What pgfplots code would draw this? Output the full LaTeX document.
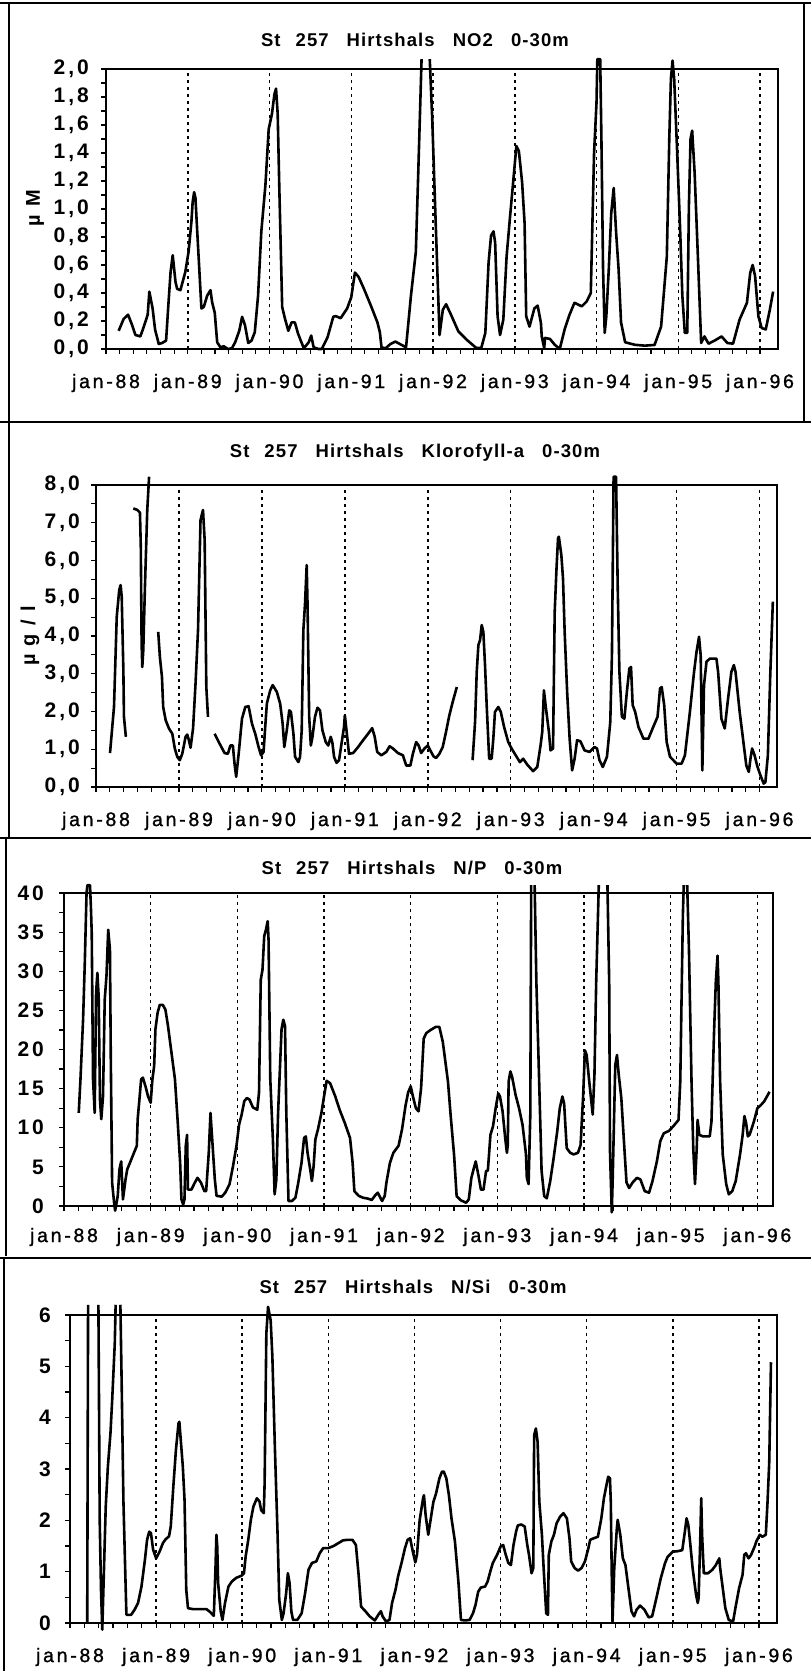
\documentclass[border=0pt]{standalone}
\usepackage{pgfplots}
\pgfplotsset{compat=1.18}
\usepackage{fontspec}
\setmainfont{Liberation Sans}
\newfontfamily\xlfont{Liberation Sans}[LetterSpace=14, FakeBold=1.2]
\newfontfamily\ylfont{Liberation Sans}[LetterSpace=14]
\newfontfamily\ttlfont{Liberation Sans}[LetterSpace=6]
\newcommand{\gap}{\hspace{18pt}}
\pgfplotsset{
  panel/.style={
    scale only axis, clip=false, xmin=0, ymin=0,
    axis line style={line width=2.3pt},
    tick style={line width=1.2pt, black},
    tick align=outside, tick pos=left,
    major tick length=5pt, minor tick length=5pt,
    xtick={0,...,8},
    xticklabels={jan-88,jan-89,jan-90,jan-91,jan-92,jan-93,jan-94,jan-95,jan-96},
    minor x tick num=5, minor y tick num=1,
    xmajorgrids,
    major grid style={line width=1.5pt, dash pattern=on 3pt off 4pt, black},
    xticklabel style={font=\xlfont\fontsize{19.5}{22}\selectfont, anchor=center, yshift=-29pt},
    yticklabel style={font=\ylfont\bfseries\fontsize{21}{24}\selectfont, anchor=east, inner sep=0pt},
    unbounded coords=jump,
  },
  dat/.style={line width=2.6pt, black, no markers, line join=round}
}
\begin{document}
\begin{tikzpicture}
\path[use as bounding box] (0pt,0pt) rectangle (811pt,-1671pt);
% panel frames
\draw[line width=1.8pt] (0pt,-3pt) -- (811pt,-3pt);
\draw[line width=1.5pt] (9pt,-3pt) -- (9pt,-838pt);
\draw[line width=1.5pt] (804pt,-3pt) -- (804pt,-422pt);
\draw[line width=1.8pt] (0pt,-422pt) -- (811pt,-422pt);
\draw[line width=1.8pt] (0pt,-838pt) -- (811pt,-838pt);
\draw[line width=1.5pt] (6pt,-838pt) -- (6pt,-1256pt);
\draw[line width=1.8pt] (0pt,-1258pt) -- (811pt,-1258pt);
\draw[line width=1.5pt] (4pt,-1258pt) -- (4pt,-1671pt);

% ---------------- Panel 1: NO2
\begin{axis}[panel, at={(106pt,-349pt)}, anchor=south west, width=672pt, height=280pt,
  xmax=8.22, ymax=2, ytick={0,0.2,0.4,0.6,0.8,1.0,1.2,1.4,1.6,1.8,2.0},
  yticklabels={{0,0},{0,2},{0,4},{0,6},{0,8},{1,0},{1,2},{1,4},{1,6},{1,8},{2,0}},
  yticklabel style={xshift=-12pt}]
\addplot[dat] coordinates {(0.155,0.13)(0.216,0.215)(0.27,0.245)(0.32,0.17)(0.36,0.10)(0.42,0.09)(0.46,0.155)(0.51,0.245)(0.53,0.41)(0.57,0.29)(0.60,0.14)(0.645,0.036)(0.686,0.043)(0.735,0.06)(0.76,0.29)(0.79,0.55)(0.816,0.67)(0.85,0.48)(0.87,0.43)(0.91,0.42)(0.97,0.55)(1.01,0.695)(1.045,0.91)(1.06,1.05)(1.078,1.12)(1.094,1.08)(1.114,0.86)(1.143,0.55)(1.167,0.29)(1.196,0.30)(1.237,0.38)(1.278,0.42)(1.298,0.335)(1.33,0.26)(1.36,0.048)(1.40,0.012)(1.44,0.02)(1.49,0.0)(1.54,0.005)(1.58,0.048)(1.63,0.13)(1.665,0.23)(1.70,0.17)(1.74,0.043)(1.78,0.06)(1.82,0.12)(1.86,0.38)(1.90,0.84)(1.95,1.17)(1.99,1.57)(2.03,1.68)(2.06,1.82)(2.08,1.86)(2.10,1.68)(2.12,1.15)(2.155,0.30)(2.19,0.215)(2.23,0.13)(2.27,0.19)(2.31,0.19)(2.35,0.108)(2.42,0.005)(2.48,0.048)(2.51,0.096)(2.54,0.012)(2.60,0)(2.64,0)(2.71,0.084)(2.78,0.23)(2.81,0.235)(2.87,0.22)(2.95,0.29)(3.00,0.37)(3.045,0.546)(3.09,0.515)(3.155,0.43)(3.24,0.31)(3.32,0.19)(3.35,0.12)(3.37,0.012)(3.42,0.005)(3.48,0.036)(3.54,0.053)(3.60,0.034)(3.67,0.012)(3.73,0.38)(3.79,0.695)(3.82,1.27)(3.86,2.07)(3.87,nan)(3.96,2.07)(3.99,1.65)(4.03,0.95)(4.08,0.10)(4.12,0.28)(4.16,0.32)(4.22,0.245)(4.31,0.126)(4.41,0.067)(4.53,0.007)(4.59,0.007)(4.64,0.115)(4.68,0.62)(4.71,0.81)(4.74,0.84)(4.76,0.76)(4.79,0.234)(4.82,0.10)(4.86,0.21)(4.90,0.66)(4.94,0.93)(4.98,1.19)(5.02,1.45)(5.05,1.415)(5.09,1.19)(5.12,0.90)(5.14,0.234)(5.18,0.16)(5.24,0.29)(5.28,0.31)(5.32,0.186)(5.33,0.09)(5.36,0.007)(5.37,0.079)(5.43,0.072)(5.49,0.03)(5.55,0)(5.61,0.14)(5.67,0.245)(5.73,0.33)(5.82,0.305)(5.88,0.34)(5.93,0.40)(5.97,1.40)(6.00,1.76)(6.01,2.07)(6.045,2.07)(6.06,1.50)(6.08,0.57)(6.10,0.115)(6.12,0.234)(6.15,0.57)(6.18,0.97)(6.21,1.15)(6.24,0.83)(6.27,0.57)(6.30,0.19)(6.35,0.048)(6.47,0.03)(6.59,0.024)(6.71,0.029)(6.79,0.16)(6.86,0.66)(6.89,1.50)(6.91,1.93)(6.93,2.06)(6.95,1.93)(6.98,1.50)(7.02,0.90)(7.05,0.38)(7.08,0.115)(7.11,0.115)(7.13,1.02)(7.15,1.50)(7.17,1.56)(7.20,1.26)(7.24,0.66)(7.28,0.043)(7.32,0.09)(7.37,0.038)(7.45,0.062)(7.53,0.09)(7.60,0.043)(7.67,0.038)(7.75,0.21)(7.84,0.33)(7.88,0.544)(7.91,0.60)(7.94,0.52)(7.98,0.234)(8.02,0.15)(8.07,0.14)(8.12,0.28)(8.16,0.41)};
\end{axis}
\node[font=\ttlfont\bfseries\fontsize{18.5}{21}\selectfont] at (415pt,-40pt) {St\hspace{15pt}257\gap Hirtshals\gap NO2\gap 0-30m};
\node[rotate=90, font=\ylfont\bfseries\fontsize{20}{22}\selectfont] at (35pt,-208pt) {µ M};

% ---------------- Panel 2: Klorofyll-a
\begin{axis}[panel, at={(96pt,-787pt)}, anchor=south west, width=681pt, height=302pt,
  xmax=8.21, ymax=8, ytick={0,1,2,3,4,5,6,7,8},
  yticklabels={{0,0},{1,0},{2,0},{3,0},{4,0},{5,0},{6,0},{7,0},{8,0}},
  yticklabel style={xshift=-11pt}]
\addplot[dat] coordinates {(0.169,0.90)(0.217,2.12)(0.25,4.51)(0.28,5.22)(0.297,5.35)(0.31,5.04)(0.33,3.09)(0.337,1.86)(0.36,1.33)(0.40,nan)
(0.45,7.38)(0.498,7.34)(0.53,7.27)(0.54,6.37)(0.55,3.80)(0.558,3.18)(0.57,3.62)(0.59,5.30)(0.618,7.34)(0.64,8.22)(0.70,nan)
(0.75,4.11)(0.77,3.45)(0.795,2.92)(0.81,2.12)(0.84,1.77)(0.88,1.55)(0.92,1.41)(0.95,1.02)(0.98,0.80)(1.01,0.71)(1.04,0.88)(1.08,1.33)(1.10,1.39)(1.12,1.24)(1.14,1.04)(1.17,1.55)(1.20,2.74)(1.23,4.16)(1.26,7.07)(1.29,7.34)(1.31,6.54)(1.33,2.65)(1.35,1.86)(1.39,nan)
(1.43,1.41)(1.49,1.15)(1.55,0.90)(1.59,0.88)(1.62,1.10)(1.65,1.10)(1.67,0.62)(1.69,0.27)(1.72,0.88)(1.76,1.81)(1.80,2.12)(1.84,2.14)(1.88,1.68)(1.92,1.41)(1.96,1.06)(1.99,0.84)(2.02,0.93)(2.04,1.59)(2.06,2.21)(2.10,2.56)(2.13,2.70)(2.18,2.52)(2.22,2.21)(2.25,1.68)(2.27,1.06)(2.30,1.50)(2.33,2.03)(2.35,1.99)(2.38,1.41)(2.40,0.80)(2.44,0.66)(2.46,0.80)(2.48,1.50)(2.50,4.16)(2.52,4.86)(2.54,5.88)(2.55,4.86)(2.57,1.86)(2.59,1.10)(2.61,1.33)(2.64,1.86)(2.67,2.10)(2.70,2.03)(2.73,1.50)(2.77,1.19)(2.80,1.10)(2.83,1.33)(2.85,1.17)(2.87,0.80)(2.90,0.64)(2.93,0.71)(2.96,1.15)(2.99,1.59)(3.00,1.90)(3.02,1.50)(3.05,0.88)(3.10,0.90)(3.16,1.06)(3.22,1.24)(3.28,1.41)(3.33,1.56)(3.36,1.33)(3.39,0.93)(3.44,0.84)(3.50,0.93)(3.54,1.08)(3.58,1.02)(3.64,0.90)(3.70,0.84)(3.74,0.57)(3.79,0.57)(3.82,0.88)(3.86,1.19)(3.89,1.10)(3.92,0.90)(3.96,1.02)(4.00,1.10)(4.03,0.97)(4.07,0.81)(4.10,0.77)(4.14,0.88)(4.18,1.06)(4.22,1.46)(4.26,1.90)(4.30,2.25)(4.35,2.65)(4.45,nan)
(4.54,0.71)(4.57,1.72)(4.59,3.05)(4.61,3.76)(4.63,3.89)(4.65,4.29)(4.67,4.11)(4.69,3.23)(4.71,2.17)(4.74,0.75)(4.77,0.75)(4.79,1.28)(4.81,1.99)(4.85,2.12)(4.88,1.99)(4.92,1.59)(4.97,1.19)(5.01,1.02)(5.06,0.84)(5.11,0.66)(5.15,0.75)(5.20,0.59)(5.27,0.42)(5.32,0.53)(5.36,1.11)(5.38,1.46)(5.40,2.56)(5.42,2.17)(5.46,1.46)(5.48,0.97)(5.51,1.02)(5.53,4.64)(5.55,5.70)(5.57,6.59)(5.58,6.63)(5.61,6.15)(5.63,5.53)(5.65,4.11)(5.68,2.52)(5.71,1.28)(5.74,0.44)(5.77,0.75)(5.80,1.24)(5.84,1.21)(5.89,0.97)(5.95,0.93)(6.01,1.06)(6.04,1.02)(6.07,0.71)(6.11,0.53)(6.16,0.80)(6.20,1.72)(6.22,3.49)(6.24,8.22)(6.27,8.22)(6.29,5.26)(6.31,3.05)(6.34,1.86)(6.37,1.81)(6.40,2.52)(6.43,3.14)(6.45,3.18)(6.47,2.17)(6.50,1.99)(6.54,1.59)(6.60,1.28)(6.66,1.28)(6.71,1.55)(6.77,1.86)(6.80,2.61)(6.82,2.65)(6.85,2.17)(6.88,1.19)(6.92,0.80)(7.00,0.62)(7.06,0.62)(7.10,0.84)(7.16,1.99)(7.21,3.05)(7.24,3.58)(7.27,3.98)(7.29,3.49)(7.31,0.44)(7.33,2.70)(7.36,3.32)(7.40,3.40)(7.48,3.40)(7.50,3.05)(7.54,1.81)(7.58,1.55)(7.62,2.34)(7.66,3.05)(7.69,3.23)(7.71,3.05)(7.76,1.99)(7.80,1.28)(7.84,0.57)(7.87,0.40)(7.89,0.75)(7.91,1.02)(7.94,0.84)(7.97,0.57)(8.01,0.31)(8.05,0.09)(8.07,0.13)(8.10,0.84)(8.13,3.05)(8.16,4.91)};
\end{axis}
\node[font=\ttlfont\bfseries\fontsize{18.5}{21}\selectfont] at (415pt,-453pt) {St\hspace{15pt}257\gap Hirtshals\gap Klorofyll-a\gap 0-30m};
\node[rotate=90, font=\ylfont\bfseries\fontsize{20}{22}\selectfont] at (30pt,-636pt) {µ g / l};

% ---------------- Panel 3: N/P
\begin{axis}[panel, at={(64pt,-1206pt)}, anchor=south west, width=709pt, height=313pt,
  xmax=8.18, ymax=40, ytick={0,5,10,15,20,25,30,35,40},
  yticklabels={0,5,10,15,20,25,30,35,40},
  yticklabel style={xshift=-15pt}, xticklabel style={yshift=3pt}]
\addplot[dat] coordinates {(0.17,11.9)(0.19,16.2)(0.22,23.8)(0.24,31.1)(0.26,40.0)(0.27,41.0)(0.30,41.0)(0.31,38.3)(0.32,34.9)(0.335,16.2)(0.354,11.9)(0.37,27.2)(0.385,29.8)(0.40,26.8)(0.415,13.6)(0.43,11.1)(0.45,14.0)(0.47,26.4)(0.49,29.4)(0.51,35.3)(0.53,32.8)(0.54,18.7)(0.555,3.0)(0.58,0.2)(0.59,-0.6)(0.62,1.28)(0.64,4.7)(0.66,5.7)(0.68,0.85)(0.71,3.4)(0.73,4.7)(0.76,5.5)(0.80,6.6)(0.84,7.7)(0.85,11.1)(0.87,13.6)(0.89,16.2)(0.91,16.4)(0.94,15.3)(0.97,14.0)(1.00,13.2)(1.02,16.2)(1.04,17.9)(1.055,22.6)(1.08,24.7)(1.105,25.7)(1.14,25.7)(1.17,25.1)(1.20,23.0)(1.24,19.6)(1.28,16.2)(1.31,11.1)(1.34,5.5)(1.355,0.85)(1.375,0.2)(1.39,0.85)(1.405,7.7)(1.42,9.1)(1.43,2.1)(1.47,2.1)(1.51,3.0)(1.54,3.6)(1.58,3.0)(1.62,1.9)(1.64,1.9)(1.67,6.8)(1.69,11.9)(1.70,10.2)(1.72,6.8)(1.74,3.4)(1.76,1.3)(1.82,1.2)(1.86,1.7)(1.91,2.8)(1.95,5.1)(1.99,7.7)(2.02,10.4)(2.05,11.7)(2.08,13.4)(2.11,13.8)(2.14,13.6)(2.18,12.6)(2.23,12.3)(2.25,14.5)(2.27,28.9)(2.29,30.2)(2.31,34.5)(2.33,35.3)(2.35,36.4)(2.36,34.0)(2.38,16.2)(2.41,8.5)(2.43,1.5)(2.45,3.4)(2.47,11.9)(2.51,22.6)(2.53,23.8)(2.55,23.0)(2.565,11.9)(2.59,0.64)(2.63,0.64)(2.67,1.06)(2.70,2.8)(2.74,5.5)(2.77,8.7)(2.79,8.9)(2.81,6.8)(2.84,4.7)(2.86,3.2)(2.88,5.1)(2.90,8.5)(2.93,9.8)(2.97,11.9)(3.00,14.0)(3.03,16.0)(3.07,15.7)(3.13,14.0)(3.18,12.3)(3.24,10.6)(3.30,8.7)(3.33,5.5)(3.35,1.9)(3.40,1.3)(3.45,1.06)(3.51,0.94)(3.55,0.77)(3.59,1.36)(3.62,1.7)(3.65,1.06)(3.67,0.64)(3.70,1.28)(3.72,3.0)(3.76,5.5)(3.80,6.8)(3.86,7.7)(3.90,9.8)(3.94,12.8)(3.97,14.5)(4.00,15.3)(4.03,13.8)(4.06,12.5)(4.09,12.1)(4.12,15.1)(4.15,21.4)(4.18,22.1)(4.23,22.5)(4.29,22.9)(4.33,22.9)(4.37,21.0)(4.43,15.9)(4.46,11.7)(4.50,6.6)(4.53,1.27)(4.58,0.72)(4.64,0.42)(4.67,0.85)(4.70,3.6)(4.73,4.9)(4.75,5.7)(4.78,4.0)(4.81,2.1)(4.84,2.1)(4.87,4.5)(4.89,4.5)(4.92,9.1)(4.95,10.2)(4.98,12.5)(5.01,14.4)(5.03,14.0)(5.06,12.1)(5.09,8.7)(5.11,6.8)(5.12,7.8)(5.13,15.9)(5.15,17.2)(5.17,16.5)(5.21,14.2)(5.25,12.5)(5.29,10.4)(5.33,6.6)(5.34,3.6)(5.36,2.8)(5.38,11.7)(5.39,41.0)(5.41,nan)(5.43,41.0)(5.45,28.6)(5.48,16.8)(5.51,4.5)(5.54,1.27)(5.57,0.98)(5.61,3.2)(5.65,6.2)(5.69,9.5)(5.72,12.5)(5.75,14.0)(5.77,13.1)(5.80,7.4)(5.84,6.8)(5.88,6.6)(5.93,6.8)(5.96,7.8)(5.99,14.2)(6.01,19.9)(6.03,19.3)(6.06,15.9)(6.08,13.8)(6.10,11.7)(6.12,16.8)(6.14,28.6)(6.17,41.0)(6.22,nan)(6.27,41.0)(6.29,28.6)(6.30,6.6)(6.32,-0.8)(6.33,3.2)(6.36,18.0)(6.38,19.3)(6.40,16.8)(6.43,13.8)(6.46,8.3)(6.49,3.0)(6.52,2.3)(6.56,3.0)(6.61,3.6)(6.65,3.4)(6.70,1.9)(6.75,1.7)(6.79,3.2)(6.84,5.7)(6.88,8.3)(6.92,9.3)(6.98,9.6)(7.03,10.2)(7.09,11.0)(7.11,15.9)(7.14,37.1)(7.15,41.0)(7.17,nan)(7.19,41.0)(7.21,32.9)(7.24,15.9)(7.26,7.4)(7.28,2.8)(7.30,7.4)(7.31,11.0)(7.33,9.1)(7.37,8.9)(7.45,8.9)(7.47,10.8)(7.50,22.3)(7.52,28.6)(7.54,32.0)(7.55,28.6)(7.57,15.9)(7.60,6.6)(7.64,2.8)(7.67,1.5)(7.71,1.9)(7.75,3.2)(7.80,6.6)(7.83,9.1)(7.85,11.5)(7.87,10.6)(7.89,8.9)(7.91,9.1)(7.96,10.8)(8.00,12.5)(8.04,12.9)(8.08,13.4)(8.14,14.6)};
\end{axis}
\node[font=\ttlfont\bfseries\fontsize{18.5}{21}\selectfont] at (412pt,-868pt) {St\hspace{15pt}257\gap Hirtshals\gap N/P\gap 0-30m};

% ---------------- Panel 4: N/Si
\begin{axis}[panel, at={(70pt,-1623pt)}, anchor=south west, width=707pt, height=308pt,
  xmax=8.21, ymax=6, ytick={0,1,2,3,4,5,6},
  yticklabels={0,1,2,3,4,5,6},
  yticklabel style={xshift=-14pt}]
\addplot[dat] coordinates {(0.20,0)(0.21,6.2)(0.27,nan)(0.33,6.2)(0.345,2.0)(0.36,0.65)(0.375,-0.13)(0.39,0.78)(0.415,2.27)(0.44,3.05)(0.47,3.7)(0.49,4.35)(0.52,5.45)(0.53,6.2)(0.56,nan)(0.585,6.2)(0.60,4.67)(0.62,2.4)(0.64,1.1)(0.655,0.16)(0.71,0.16)(0.75,0.26)(0.79,0.39)(0.83,0.71)(0.87,1.23)(0.895,1.62)(0.92,1.78)(0.94,1.75)(0.965,1.43)(1.00,1.26)(1.04,1.39)(1.08,1.56)(1.11,1.63)(1.15,1.69)(1.17,1.88)(1.20,2.66)(1.23,3.37)(1.26,3.89)(1.27,3.92)(1.28,3.70)(1.31,3.05)(1.33,2.40)(1.35,0.65)(1.37,0.29)(1.43,0.27)(1.51,0.27)(1.585,0.27)(1.63,0.21)(1.67,0.14)(1.69,1.1)(1.70,1.72)(1.71,1.49)(1.72,0.78)(1.75,0.23)(1.77,0.06)(1.80,0.39)(1.84,0.71)(1.88,0.81)(1.93,0.88)(1.99,0.92)(2.02,0.97)(2.04,1.30)(2.07,1.62)(2.10,2.01)(2.13,2.27)(2.17,2.43)(2.20,2.37)(2.22,2.20)(2.25,2.14)(2.26,2.72)(2.28,5.64)(2.30,6.16)(2.33,5.9)(2.35,5.19)(2.38,3.37)(2.41,1.75)(2.43,0.45)(2.46,0.06)(2.48,0.19)(2.51,0.58)(2.53,0.97)(2.55,0.78)(2.57,0.23)(2.59,0.06)(2.64,0.06)(2.69,0.19)(2.73,0.58)(2.77,1.04)(2.81,1.17)(2.86,1.20)(2.90,1.36)(2.94,1.46)(3.00,1.46)(3.06,1.50)(3.12,1.56)(3.17,1.61)(3.22,1.62)(3.28,1.62)(3.32,1.52)(3.35,0.97)(3.38,0.32)(3.43,0.23)(3.48,0.13)(3.54,0.05)(3.58,0.16)(3.61,0.23)(3.63,0.13)(3.67,0.03)(3.71,0.06)(3.74,0.39)(3.78,0.65)(3.81,0.91)(3.85,1.17)(3.89,1.46)(3.92,1.62)(3.95,1.65)(3.98,1.40)(4.01,1.18)(4.03,1.34)(4.06,2.0)(4.10,2.43)(4.11,2.49)(4.13,2.10)(4.16,1.72)(4.19,2.04)(4.22,2.36)(4.25,2.52)(4.29,2.82)(4.32,2.95)(4.34,2.95)(4.37,2.82)(4.40,2.49)(4.43,2.04)(4.47,1.59)(4.51,0.81)(4.54,0.06)(4.59,0.05)(4.64,0.06)(4.68,0.19)(4.71,0.36)(4.74,0.61)(4.77,0.69)(4.82,0.71)(4.85,0.81)(4.88,1.00)(4.91,1.17)(4.96,1.33)(5.00,1.49)(5.03,1.52)(5.06,1.33)(5.09,1.17)(5.12,1.13)(5.15,1.52)(5.18,1.78)(5.20,1.90)(5.24,1.92)(5.28,1.88)(5.31,1.52)(5.33,1.33)(5.36,0.97)(5.38,1.07)(5.39,3.66)(5.41,3.79)(5.43,3.53)(5.45,2.36)(5.48,1.72)(5.50,1.07)(5.53,0.19)(5.55,0.16)(5.56,1.33)(5.59,1.59)(5.62,1.72)(5.65,1.94)(5.69,2.07)(5.73,2.14)(5.77,2.04)(5.80,1.65)(5.82,1.20)(5.86,1.07)(5.90,1.02)(5.94,1.07)(5.98,1.20)(6.02,1.46)(6.04,1.62)(6.08,1.65)(6.13,1.68)(6.17,2.04)(6.20,2.43)(6.23,2.69)(6.25,2.85)(6.27,2.82)(6.28,2.36)(6.29,1.07)(6.30,0.03)(6.32,1.07)(6.35,1.84)(6.36,2.01)(6.39,1.72)(6.42,1.26)(6.45,1.13)(6.48,0.74)(6.52,0.23)(6.55,0.13)(6.58,0.26)(6.62,0.34)(6.67,0.26)(6.72,0.11)(6.76,0.13)(6.81,0.49)(6.86,0.87)(6.91,1.17)(6.94,1.29)(7.00,1.39)(7.06,1.40)(7.11,1.42)(7.14,1.78)(7.16,2.04)(7.18,1.91)(7.20,1.59)(7.23,1.07)(7.27,0.55)(7.29,0.39)(7.30,0.49)(7.32,1.72)(7.33,2.43)(7.34,1.72)(7.36,0.97)(7.41,0.97)(7.46,1.04)(7.50,1.13)(7.54,1.26)(7.55,1.07)(7.58,0.68)(7.61,0.29)(7.65,0.06)(7.70,0.03)(7.73,0.32)(7.77,0.68)(7.81,0.94)(7.83,1.33)(7.85,1.36)(7.88,1.26)(7.91,1.33)(7.95,1.49)(7.97,1.59)(8.01,1.72)(8.04,1.68)(8.08,1.72)(8.10,2.36)(8.12,3.14)(8.14,5.08)};
\end{axis}
\node[font=\ttlfont\bfseries\fontsize{18.5}{21}\selectfont] at (413pt,-1287pt) {St\hspace{15pt}257\gap Hirtshals\gap N/Si\gap 0-30m};
\end{tikzpicture}
\end{document}
